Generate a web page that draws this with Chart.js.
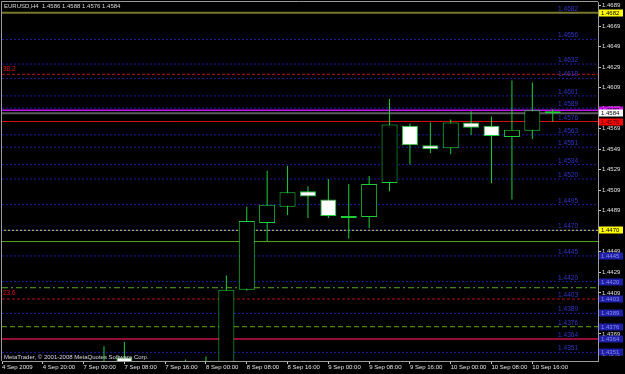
<!DOCTYPE html>
<html>
<head>
<meta charset="utf-8">
<script src="https://cdn.jsdelivr.net/npm/chart.js@4.4.1/dist/chart.umd.min.js"></script>
<style>
  html, body { margin: 0; padding: 0; background: #000; }
</style>
</head>
<body>
<canvas id="chart" width="625" height="374"></canvas>
<script>
// EURUSD H4, 4 Sep 12:00 .. 10 Sep 20:00 (2009)
const tickBars = [0, 2, 4, 6, 8, 10, 12, 14, 16, 18, 20, 22, 24, 26];
const tickLabels = ['4 Sep 2009', '4 Sep 20:00', '7 Sep 00:00', '7 Sep 08:00', '7 Sep 16:00',
  '8 Sep 00:00', '8 Sep 08:00', '8 Sep 16:00', '9 Sep 00:00', '9 Sep 08:00', '9 Sep 16:00',
  '10 Sep 00:00', '10 Sep 08:00', '10 Sep 16:00'];

const opens  = [1.4300, 1.4312, 1.4318, 1.4310, 1.4322, 1.4315, 1.4346, 1.4312, 1.4305, 1.4300, 1.4330,
  1.4318, 1.4412, 1.4477, 1.4493, 1.4508, 1.4500, 1.4484, 1.4483, 1.4516, 1.4572, 1.4553, 1.4550,
  1.4575, 1.4572, 1.4561, 1.4567, 1.4586];
const highs  = [1.4322, 1.4330, 1.4334, 1.4326, 1.4335, 1.4357, 1.4361, 1.4328, 1.4320, 1.4344, 1.4347,
  1.4426, 1.4493, 1.4528, 1.4533, 1.4513, 1.4520, 1.4515, 1.4523, 1.4598, 1.4574, 1.4575, 1.4578,
  1.4586, 1.4581, 1.4616, 1.4614, 1.4588];
const lows   = [1.4290, 1.4302, 1.4305, 1.4296, 1.4310, 1.4308, 1.4300, 1.4298, 1.4285, 1.4290, 1.4310,
  1.4305, 1.4411, 1.4459, 1.4485, 1.4482, 1.4482, 1.4462, 1.4472, 1.4508, 1.4534, 1.4545, 1.4544,
  1.4563, 1.4516, 1.4500, 1.4559, 1.4576];
const closes = [1.4312, 1.4318, 1.4310, 1.4322, 1.4315, 1.4330, 1.4312, 1.4305, 1.4300, 1.4330, 1.4318,
  1.4412, 1.4479, 1.4495, 1.4507, 1.4503, 1.4484, 1.4482, 1.4515, 1.4573, 1.4553, 1.4549, 1.4575,
  1.4570, 1.4562, 1.4568, 1.4587, 1.4584];

const priceTicks = [1.4689, 1.4669, 1.4649, 1.4629, 1.4609, 1.4589, 1.4569, 1.4549, 1.4529, 1.4509,
  1.4489, 1.4469, 1.4449, 1.4429, 1.4409, 1.4389, 1.4369, 1.4349];

// levels from the attached indicators
const pivotLevels = [1.4656, 1.4632, 1.4618, 1.4601, 1.4589, 1.4563, 1.4551, 1.4534, 1.4520, 1.4495,
  1.4470, 1.4445, 1.4420, 1.4389, 1.4351];
const fibLevels = [1.4622, 1.4403];
const fibNames = ['38.2', '23.6'];
const channelLevels = [1.4459, 1.4414, 1.4376];
const alertLevels = [1.4682, 1.4587, 1.4576, 1.4470, 1.4364];
const bidPrice = 1.4584;
const scaleMarks = [1.4445, 1.4420, 1.4403, 1.4389, 1.4376, 1.4364, 1.4351];

const FONT = "'Liberation Sans', Arial, sans-serif";
const FS = 6;
const X_MIN = 0, X_MAX = 29.22;
const Y_MIN = 1.43426, Y_MAX = 1.46925;
const GREEN = '#1ccf38';
const last = opens.length - 1;

const idx = opens.map((_, i) => i);
const bodyData = idx.map(i => ({ x: i, y: [opens[i], closes[i]] }));
const wickData = idx.map(i => ({ x: i, y: [lows[i], highs[i]] }));

function hline(p, color, width, dash, offset) {
    return {
        type: 'line',
        data: [{ x: X_MIN, y: p }, { x: X_MAX, y: p }],
        borderColor: color,
        borderWidth: width,
        borderDash: dash,
        borderDashOffset: offset || 0,
        pointRadius: 0,
        fill: false,
        order: 10
    };
}

const levelSets = [];
pivotLevels.forEach(p => levelSets.push(hline(p, '#1c1c9c', 1, [2, 2])));
fibLevels.forEach(p => levelSets.push(hline(p, '#b41414', 1, [3, 2])));
const channelDash = [[], [6, 3, 2, 3], [5, 3]];
channelLevels.forEach((p, i) => levelSets.push(hline(p, '#5aa81e', 1, channelDash[i])));
const alertStyles = [
    { color: '#78782c', width: 2, dash: [] },
    { color: '#c010f0', width: 1.5, dash: [] },
    { color: '#d01010', width: 1, dash: [] },
    { color: '#d8d860', width: 1, dash: [2, 2], offset: 2 },
    { color: '#c8104c', width: 1.5, dash: [] }
];
alertLevels.forEach((p, i) => {
    const s = alertStyles[i];
    levelSets.push(hline(p, s.color, s.width, s.dash, s.offset));
});
levelSets.push(hline(bidPrice, '#5c5c5c', 2, []));

const overlay = {
    id: 'overlay',
    beforeDraw(chart) {
        const ctx = chart.ctx;
        ctx.save();
        ctx.fillStyle = '#000';
        ctx.fillRect(0, 0, chart.width, chart.height);
        ctx.restore();
    },
    afterDraw(chart) {
        const { ctx, chartArea: a } = chart;
        const y = chart.scales.y;
        ctx.save();

        // window frame
        ctx.strokeStyle = '#9a9a9a';
        ctx.lineWidth = 1;
        ctx.beginPath();
        ctx.moveTo(1.5, a.bottom);
        ctx.lineTo(1.5, 1.5);
        ctx.lineTo(a.right, 1.5);
        ctx.stroke();

        ctx.font = FS + 'px ' + FONT;
        ctx.textBaseline = 'middle';
        ctx.textAlign = 'left';
        ctx.fillStyle = '#d8d8d8';
        const f = v => v.toFixed(4);
        ctx.fillText('EURUSD,H4  ' + [opens[last], highs[last], lows[last], closes[last]].map(f).join(' '), 4, 6.5);
        ctx.fillText('MetaTrader, \u00a9 2001-2008 MetaQuotes Software Corp.', 4, 357);

        // fibo captions
        ctx.fillStyle = '#e01010';
        ctx.font = '6.5px ' + FONT;
        fibLevels.forEach((p, i) => ctx.fillText(fibNames[i], 3, y.getPixelForValue(p) - 5.5));

        // level captions
        const captions = new Set([...pivotLevels, alertLevels[0], alertLevels[2], fibLevels[1],
            channelLevels[2], alertLevels[4]]);
        ctx.fillStyle = '#3434c8';
        ctx.textAlign = 'right';
        ctx.textBaseline = 'bottom';
        captions.forEach(p => ctx.fillText(f(p), 578, y.getPixelForValue(p) - 0.5));

        // price boxes on the scale
        ctx.font = FS + 'px ' + FONT;
        ctx.textAlign = 'left';
        ctx.textBaseline = 'middle';
        function box(p, bg, fg) {
            const py = Math.round(y.getPixelForValue(p));
            ctx.fillStyle = bg;
            ctx.fillRect(599, py - 3.5, 24, 7);
            ctx.fillStyle = fg;
            ctx.fillText(f(p), 601, py);
        }
        scaleMarks.forEach(p => box(p, '#1e1ea6', '#8c8cf0'));
        box(alertLevels[0], '#ffff00', '#000');
        box(alertLevels[3], '#ffff00', '#000');
        box(alertLevels[1], '#d010f0', '#000');
        box(bidPrice, '#ffffff', '#000');
        box(alertLevels[2], '#ff0000', '#400000');

        ctx.restore();
    }
};

new Chart(document.getElementById('chart'), {
    type: 'bar',
    data: {
        datasets: [
            {
                type: 'bar',
                data: bodyData,
                grouped: false,
                barThickness: 16,
                borderWidth: 1,
                borderSkipped: false,
                inflateAmount: 0,
                backgroundColor: idx.map(i => closes[i] >= opens[i] ? '#000000' : '#ffffff'),
                borderColor: GREEN,
                order: 0
            },
            {
                type: 'bar',
                data: wickData,
                grouped: false,
                barThickness: 1,
                borderWidth: 0,
                inflateAmount: 0,
                backgroundColor: GREEN,
                order: 1
            },
            ...levelSets
        ]
    },
    options: {
        responsive: false,
        animation: false,
        devicePixelRatio: 1,
        events: [],
        layout: { padding: { left: 2, top: 2, right: 0, bottom: 0 } },
        plugins: {
            legend: { display: false },
            tooltip: { enabled: false }
        },
        scales: {
            x: {
                type: 'linear',
                min: X_MIN,
                max: X_MAX,
                offset: false,
                grid: { drawOnChartArea: false, drawTicks: true, tickLength: 3, color: '#c8c8c8', offset: false },
                border: { color: '#9a9a9a' },
                ticks: {
                    autoSkip: false,
                    maxRotation: 0,
                    minRotation: 0,
                    align: 'start',
                    padding: 0,
                    color: '#e0e0e0',
                    font: { family: FONT, size: FS },
                    callback: function(value) {
                        const k = tickBars.indexOf(value);
                        return k >= 0 ? tickLabels[k] : '';
                    }
                },
                afterBuildTicks: function(scale) {
                    scale.ticks = tickBars.map(v => ({ value: v }));
                },
                afterFit: function(scale) {
                    scale.height = 13;
                    scale.paddingLeft = 0;
                    scale.paddingRight = 0;
                }
            },
            y: {
                type: 'linear',
                position: 'right',
                min: Y_MIN,
                max: Y_MAX,
                grid: { drawOnChartArea: false, drawTicks: true, tickLength: 3, color: '#c8c8c8' },
                border: { color: '#9a9a9a' },
                ticks: {
                    padding: 1,
                    color: '#e0e0e0',
                    font: { family: FONT, size: FS },
                    callback: v => v.toFixed(4)
                },
                afterBuildTicks: function(scale) {
                    scale.ticks = priceTicks.map(v => ({ value: v }));
                },
                afterFit: function(scale) {
                    scale.width = 27;
                    scale.paddingTop = 0;
                    scale.paddingBottom = 0;
                }
            }
        }
    },
    plugins: [overlay]
});
</script>
</body>
</html>
